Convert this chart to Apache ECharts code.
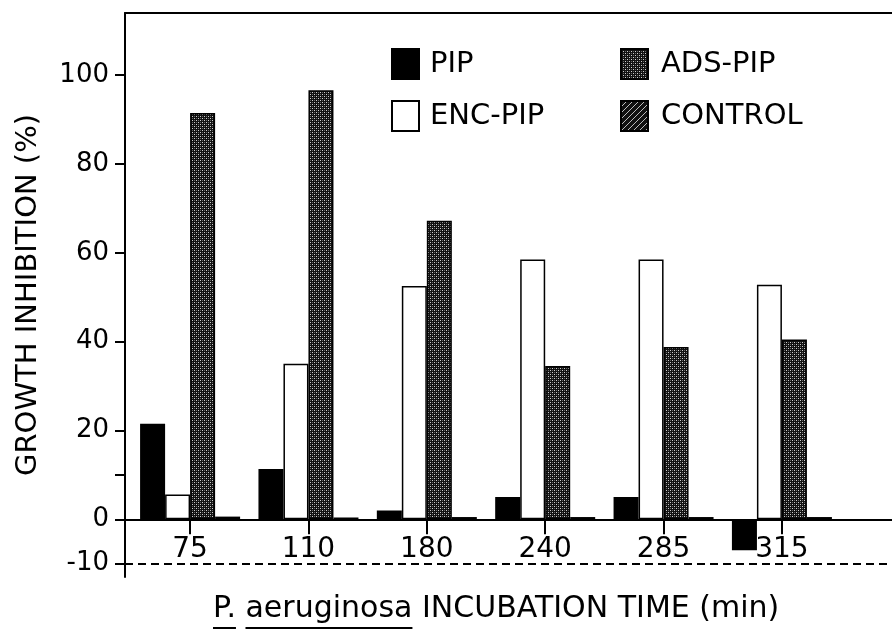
<!DOCTYPE html>
<html>
<head>
<meta charset="utf-8">
<script src="https://cdn.jsdelivr.net/npm/echarts@6/dist/echarts.min.js"></script>
<style>
  body { margin: 0; background: #fff; }
  #chart { width: 892px; height: 630px; }
</style>
</head>
<body>
<div id="chart"></div>
<script>
// incubation times (min)
const categories = ['75', '110', '180', '240', '285', '315'];

// growth inhibition (%)
const pip     = [21.5, 11.3, 2.0, 5.0, 5.0, -7.0];
const encPip  = [5.6, 35.0, 52.5, 58.5, 58.5, 52.8];
const adsPip  = [91.5, 96.6, 67.2, 34.5, 38.8, 40.5];
const control = [0.6, 0.4, 0.5, 0.5, 0.5, 0.5];

const yLabelValues = [-10, 0, 20, 40, 60, 80, 100];
const yTickValues = [-10, 0, 10, 20, 40, 60, 80, 100];

const FONT = '"DejaVu Sans", "Liberation Sans", sans-serif';

// fill patterns
function makePattern(size, draw) {
  const c = document.createElement('canvas');
  c.width = size; c.height = size;
  const ctx = c.getContext('2d');
  draw(ctx);
  return { image: c, repeat: 'repeat' };
}
const adsPattern = makePattern(4, ctx => {
  ctx.fillStyle = '#111';
  ctx.fillRect(0, 0, 4, 4);
  ctx.fillStyle = '#ccc';
  ctx.fillRect(0, 0, 1, 1);
  ctx.fillRect(2, 2, 1, 1);
  ctx.fillStyle = '#666';
  ctx.fillRect(2, 0, 1, 1);
  ctx.fillRect(0, 2, 1, 1);
});
const controlPattern = makePattern(6, ctx => {
  ctx.fillStyle = '#111';
  ctx.fillRect(0, 0, 6, 6);
  ctx.fillStyle = '#bbb';
  for (let i = 0; i < 6; i++) ctx.fillRect(5 - i, i, 1, 1);
});

function pairs(arr) {
  return arr.map((v, i) => [i, v]);
}

const chart = echarts.init(document.getElementById('chart'));

function barSeries(name, values, color, extra) {
  return Object.assign({
    name: name,
    type: 'bar',
    xAxisIndex: 0,
    barWidth: 25,
    barGap: '0%',
    data: pairs(values),
    itemStyle: { color: color, borderColor: '#000', borderWidth: 1.5 },
    emphasis: { disabled: true }
  }, extra || {});
}

// x title underline widths
const titleFont = '30px ' + FONT;
const measure = document.createElement('canvas').getContext('2d');
measure.font = titleFont;
const titleX = 213;
const wP = measure.measureText('P.').width;
const wSpace = measure.measureText('P. ').width;
const wAer = measure.measureText('aeruginosa').width;

const xMin = -0.55, xMax = 5.93;
const yMin = -13, yMax = 114;
const gridTop = 13, gridBottom = 53;
// shift the category axis up from the grid bottom to the zero line
const plotH = 630 - gridTop - gridBottom;
const zeroOffset = -plotH * (0 - yMin) / (yMax - yMin);

chart.setOption({
  animation: false,
  backgroundColor: '#fff',
  textStyle: { fontFamily: FONT, color: '#000' },
  grid: { left: 125, right: 0, top: gridTop, bottom: gridBottom },
  legend: [
    {
      data: ['PIP', 'ENC-PIP'],
      orient: 'vertical',
      left: 386, top: 43,
      icon: 'rect',
      itemWidth: 27, itemHeight: 30, itemGap: 20,
      textStyle: { fontFamily: FONT, fontSize: 29, color: '#000', padding: [0, 0, 0, 6] },
      selectedMode: false
    },
    {
      data: ['ADS-PIP', 'CONTROL'],
      orient: 'vertical',
      left: 615, top: 43,
      icon: 'rect',
      itemWidth: 27, itemHeight: 30, itemGap: 20,
      textStyle: { fontFamily: FONT, fontSize: 29, color: '#000', padding: [0, 0, 0, 8] },
      selectedMode: false
    }
  ],
  xAxis: [
    {
      type: 'value',
      min: xMin, max: xMax,
      offset: zeroOffset,
      axisLine: { onZero: false, lineStyle: { color: '#000', width: 2 } },
      axisTick: { show: true, customValues: categories.map((c, i) => i), length: 15, lineStyle: { color: '#000', width: 2 } },
      axisLabel: {
        customValues: categories.map((c, i) => i),
        formatter: v => categories[Math.round(v)],
        fontSize: 28, color: '#000', margin: 16, fontFamily: FONT
      },
      splitLine: { show: false }
    },
    {
      type: 'value',
      position: 'top',
      min: xMin, max: xMax,
      axisLine: { onZero: false, lineStyle: { color: '#000', width: 2 } },
      axisTick: { show: false },
      axisLabel: { show: false },
      splitLine: { show: false }
    }
  ],
  yAxis: {
    type: 'value',
    min: yMin, max: yMax,
    name: 'GROWTH INHIBITION (%)',
    nameLocation: 'middle',
    nameGap: 82,
    nameTextStyle: { fontSize: 29, color: '#000', fontFamily: FONT },
    axisLine: { show: true, onZero: false, lineStyle: { color: '#000', width: 2 } },
    axisTick: { show: true, customValues: yTickValues, length: 10, lineStyle: { color: '#000', width: 2 } },
    axisLabel: { customValues: yLabelValues, fontSize: 26, color: '#000', margin: 16, fontFamily: FONT },
    splitLine: { show: false }
  },
  series: [
    barSeries('PIP', pip, '#000'),
    barSeries('ENC-PIP', encPip, '#fff'),
    barSeries('ADS-PIP', adsPip, adsPattern),
    barSeries('CONTROL', control, controlPattern, {
      markLine: {
        silent: true,
        symbol: 'none',
        label: { show: false },
        lineStyle: { color: '#000', type: [8, 5], width: 2 },
        data: [{ yAxis: -10 }]
      }
    })
  ],
  graphic: [
    {
      type: 'text',
      left: titleX, top: 594,
      style: { text: 'P. aeruginosa INCUBATION TIME (min)', font: titleFont, fill: '#000' }
    },
    {
      type: 'line',
      shape: { x1: titleX, y1: 628, x2: titleX + wP, y2: 628 },
      style: { stroke: '#000', lineWidth: 2 }
    },
    {
      type: 'line',
      shape: { x1: titleX + wSpace, y1: 628, x2: titleX + wSpace + wAer, y2: 628 },
      style: { stroke: '#000', lineWidth: 2 }
    }
  ]
});
</script>
</body>
</html>
